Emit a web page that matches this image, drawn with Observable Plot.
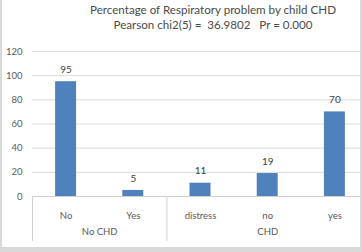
<!DOCTYPE html>
<html><head><meta charset="utf-8">
<script src="https://cdn.jsdelivr.net/npm/d3@7"></script>
<script src="https://cdn.jsdelivr.net/npm/@observablehq/plot@0.6"></script>
<style>
html,body{margin:0;padding:0;background:#fff;}
#wrap{position:relative;width:362px;height:252px;background:#d9d9d9;overflow:hidden;font-family:Lato,"Open Sans",sans-serif;}
#inner{position:absolute;left:2px;top:0;width:358px;height:247px;background:#fff;}
#chart{position:absolute;left:0;top:0;}
.t{position:absolute;left:0;width:426px;text-align:center;font-size:11.6px;color:#4a4a4a;white-space:pre;line-height:14px;}
</style></head>
<body>
<div id="wrap"><div id="inner"></div><div id="chart"></div>
<div class="t" style="top:3px">Percentage of Respiratory problem by child CHD</div>
<div class="t" style="top:18px">Pearson chi2(5) =  36.9802   Pr = 0.000</div>
</div>
<script>
const categories = ["No", "Yes", "distress", "no", "yes"];
const groups = ["No CHD", "No CHD", "CHD", "CHD", "CHD"];
const values = [95, 5, 11, 19, 70];
const yTicks = [0, 20, 40, 60, 80, 100, 120];

const data = categories.map((c, i) => ({i, cat: c, group: groups[i], value: values[i]}));
const groupNames = [...new Set(groups)];
const groupData = groupNames.map(g => {
  const idx = data.filter(d => d.group === g).map(d => d.i);
  return {group: g, center: d3.mean(idx), start: d3.min(idx) - 0.5};
});
const half = 0.156;

const plot = Plot.plot({
  width: 362,
  height: 252,
  marginLeft: 32,
  marginRight: 2,
  marginTop: 196,
  marginBottom: 11,
  style: {background: "transparent", fontFamily: "Lato, 'Open Sans', sans-serif", overflow: "visible"},
  x: {domain: [-0.5, categories.length - 0.5], range: [32, 368], axis: null},
  y: {domain: [0, 120], range: [196, 51], axis: null},
  marks: [
    Plot.ruleY(yTicks.filter(t => t > 0), {stroke: "#d9d9d9", strokeWidth: 1}),
    Plot.ruleY([0], {stroke: "#cfcfcf", strokeWidth: 1}),
    Plot.rectY(data, {x1: d => d.i - half, x2: d => d.i + half, y1: 0, y2: "value", fill: "#4f81bd"}),
    Plot.text(data, {x: "i", y: "value", text: d => String(d.value), dy: -12, fontSize: 10, fill: "#404040"}),
    Plot.text(yTicks, {x: -0.5, y: d => d, text: d => String(d), textAnchor: "end", dx: -10, fontSize: 9.5, fill: "#595959"}),
    Plot.ruleX(groupData, {x: "start", stroke: "#d0d0d0", strokeWidth: 1}),
    Plot.text(data, {x: "i", text: "cat", frameAnchor: "top", dy: 16, fontSize: 9.5, fill: "#595959"}),
    Plot.text(groupData, {x: "center", text: "group", frameAnchor: "bottom", dy: -7, fontSize: 9.5, fill: "#595959"})
  ]
});
document.getElementById("chart").appendChild(plot);
</script>
</body></html>
